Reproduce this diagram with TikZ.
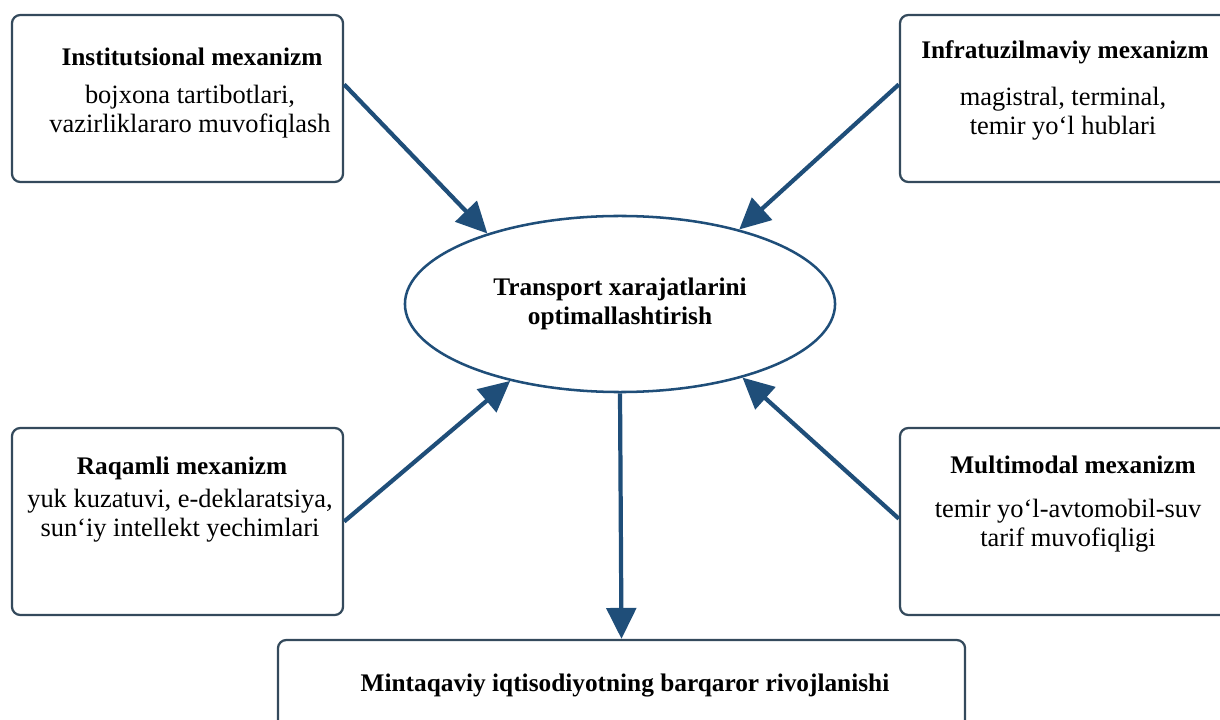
\documentclass[tikz,border=0pt]{standalone}
\usepackage{fontspec}
\setmainfont{Liberation Serif}
\usetikzlibrary{arrows.meta, shapes.geometric, positioning}
\definecolor{arrowblue}{RGB}{31,78,121}
\definecolor{boxline}{RGB}{52,74,92}

\begin{document}
\begin{tikzpicture}[x=0.025cm, y=-0.025cm,
    mechbox/.style={draw=boxline, line width=1.6pt, rounded corners=6pt, fill=white,
        minimum width=8.275cm, inner sep=0pt},
    goalnode/.style={ellipse, draw=arrowblue, line width=1.8pt, fill=white,
        minimum width=10.75cm, minimum height=4.4cm, inner sep=0pt, align=center,
        font=\fontsize{18}{20.5}\selectfont\bfseries},
    ttl/.style={font=\fontsize{18}{20.5}\selectfont\bfseries, align=center, inner sep=0pt},
    txt/.style={font=\fontsize{18.8}{20.5}\selectfont, align=center, inner sep=0pt},
    flow/.style={draw=arrowblue, line width=3pt, -{Triangle[length=22pt,width=21pt]}}]

    % Page frame (the right and bottom boxes run off the edge)
    \useasboundingbox (0,0) rectangle (1220,720);
    \clip (0,0) rectangle (1220,720);

    % The four mechanism boxes
    \node[mechbox, minimum height=4.175cm] (inst)  at (177.5,98.5)  {};
    \node[mechbox, minimum height=4.175cm] (infra) at (1065.5,98.5) {};
    \node[mechbox, minimum height=4.675cm] (raq)   at (177.5,521.5) {};
    \node[mechbox, minimum height=4.675cm] (multi) at (1065.5,521.5) {};

    % Central goal and the result box
    \node[goalnode] (goal) at (620,304) {Transport xarajatlarini\\optimallashtirish};
    \node[mechbox, minimum width=17.175cm, minimum height=2.25cm] (result) at (621.5,685) {};
    \node[ttl] (resultT) at (625,686) {Mintaqaviy iqtisodiyotning barqaror rivojlanishi};

    % Titles and contents of the boxes
    \node[ttl] (instT)  at (192,57)   {Institutsional mexanizm};
    \node[txt] (instB)  at (190,112)  {bojxona tartibotlari,\\vazirliklararo muvofiqlash};
    \node[ttl] (infraT) at (1065,52)  {Infratuzilmaviy mexanizm};
    \node[txt] (infraB) at (1063,114) {magistral, terminal,\\temir yo‘l hublari};
    \node[ttl] (raqT)   at (182,468)  {Raqamli mexanizm};
    \node[txt] (raqB)   at (180,516)  {yuk kuzatuvi, e-deklaratsiya,\\sun‘iy intellekt yechimlari};
    \node[ttl] (multiT) at (1073,465) {Multimodal mexanizm};
    \node[txt] (multiB) at (1068,526) {temir yo‘l-avtomobil-suv\\tarif muvofiqligi};

    % Arrows into the goal
    \draw[flow] ([yshift=10]inst.east)  -- (goal.152);
    \draw[flow] ([yshift=10]infra.west) -- (goal.32);
    \draw[flow] (raq.east)              -- (goal.215);
    \draw[flow] ([yshift=2]multi.west)  -- (goal.329);

    % Arrow out to the result
    \draw[flow] (goal.south) -- (result.north);
\end{tikzpicture}
\end{document}
